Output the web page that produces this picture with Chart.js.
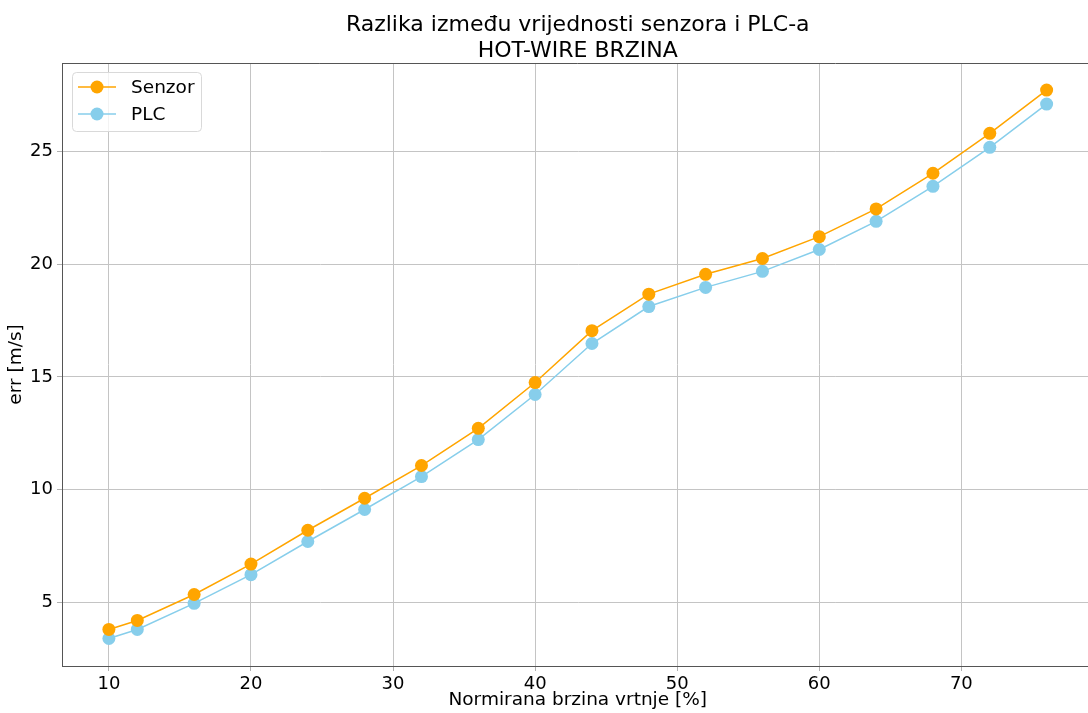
<!DOCTYPE html>
<html>
<head>
<meta charset="utf-8">
<script src="https://cdn.jsdelivr.net/npm/chart.js@4"></script>
<style>
  html, body { margin: 0; padding: 0; background: #fff; overflow: hidden; width: 1088px; height: 713px; }
  canvas { display: block; }
</style>
</head>
<body>
<canvas id="c" width="1100" height="713"></canvas>
<script>
const xValues = [10, 12, 16, 20, 24, 28, 32, 36, 40, 44, 48, 52, 56, 60, 64, 68, 72, 76];
const senzor = [3.8, 4.2, 5.35, 6.7, 8.2, 9.62, 11.07, 12.72, 14.75, 17.05, 18.67, 19.55, 20.25, 21.22, 22.45, 24.03, 25.8, 27.72];
const plc = [3.4, 3.8, 4.96, 6.23, 7.7, 9.12, 10.58, 12.22, 14.22, 16.48, 18.12, 18.97, 19.68, 20.65, 21.9, 23.45, 25.18, 27.1];
const xTicks = [10, 20, 30, 40, 50, 60, 70];
const yTicks = [5, 10, 15, 20, 25];
const titleLines = ['Razlika između vrijednosti senzora i PLC-a', 'HOT-WIRE BRZINA'];
const xLabel = 'Normirana brzina vrtnje [%]';
const yLabel = 'err [m/s]';

const FONT = "'DejaVu Sans', sans-serif";
const ORANGE = '#FFA500';
const SKY = '#87CEEB';
const SPINE = '#555555';

const titlePlugin = {
  id: 'mplTitle',
  afterDraw(chart) {
    const ctx = chart.ctx, a = chart.chartArea;
    const cx = (a.left + a.right) / 2;
    ctx.save();
    ctx.fillStyle = '#000';
    ctx.font = '22px ' + FONT;
    ctx.textAlign = 'center';
    ctx.textBaseline = 'alphabetic';
    titleLines.forEach((t, i) => ctx.fillText(t, cx, 31 + i * 26));
    ctx.restore();
  }
};

const legendPlugin = {
  id: 'mplLegend',
  afterDatasetsDraw(chart) {
    const ctx = chart.ctx;
    const a = chart.chartArea;
    const x0 = a.left + 10, y0 = a.top + 9, w = 129, h = 59;
    ctx.save();
    ctx.beginPath();
    ctx.roundRect(x0 + 0.5, y0 + 0.5, w, h, 4);
    ctx.fillStyle = 'rgba(255,255,255,0.8)';
    ctx.fill();
    ctx.strokeStyle = '#d9d9d9';
    ctx.lineWidth = 1;
    ctx.stroke();
    chart.data.datasets.forEach((ds, i) => {
      const cy = y0 + 15 + i * 27;
      ctx.strokeStyle = ds.borderColor;
      ctx.lineWidth = 1.5;
      ctx.beginPath();
      ctx.moveTo(x0 + 6, cy);
      ctx.lineTo(x0 + 44, cy);
      ctx.stroke();
      ctx.fillStyle = ds.borderColor;
      ctx.beginPath();
      ctx.arc(x0 + 25, cy, 6.5, 0, Math.PI * 2);
      ctx.fill();
      ctx.fillStyle = '#000';
      ctx.font = '18.5px ' + FONT;
      ctx.textBaseline = 'middle';
      ctx.textAlign = 'left';
      ctx.fillText(ds.label, x0 + 59, cy + 1);
    });
    ctx.restore();
  }
};

const topSpine = {
  id: 'topSpine',
  afterDraw(chart) {
    const ctx = chart.ctx, a = chart.chartArea;
    ctx.save();
    ctx.strokeStyle = SPINE;
    ctx.lineWidth = 1;
    ctx.beginPath();
    ctx.moveTo(a.left, a.top + 0.5);
    ctx.lineTo(a.right, a.top + 0.5);
    ctx.stroke();
    ctx.restore();
  }
};

new Chart(document.getElementById('c'), {
  type: 'line',
  data: {
    datasets: [
      {
        label: 'Senzor',
        data: xValues.map((x, i) => ({ x: x, y: senzor[i] })),
        borderColor: ORANGE, backgroundColor: ORANGE,
        pointBackgroundColor: ORANGE, pointBorderWidth: 0,
        pointRadius: 6.5, borderWidth: 1.5, tension: 0
      },
      {
        label: 'PLC',
        data: xValues.map((x, i) => ({ x: x, y: plc[i] })),
        borderColor: SKY, backgroundColor: SKY,
        pointBackgroundColor: SKY, pointBorderWidth: 0,
        pointRadius: 6.5, borderWidth: 1.5, tension: 0
      }
    ]
  },
  options: {
    responsive: false,
    animation: false,
    layout: { padding: { left: 0, right: 4, top: 63, bottom: 0 } },
    plugins: {
      legend: { display: false },
      tooltip: { enabled: false },
      title: { display: false }
    },
    scales: {
      x: {
        type: 'linear',
        min: 6.7, max: 79.3,
        afterBuildTicks: s => { s.ticks = xTicks.map(v => ({ value: v })); },
        afterFit: s => { s.height = 47; },
        grid: { color: '#c4c4c4', lineWidth: 1, tickColor: '#b0b0b0', tickLength: 5, drawTicks: true },
        border: { display: true, color: SPINE, width: 1 },
        ticks: { color: '#000', font: { family: FONT, size: 18 }, padding: 3, maxRotation: 0, autoSkip: false },
        title: { display: true, text: xLabel, color: '#000', font: { family: FONT, size: 18.5 }, padding: { top: 0, bottom: 2 } }
      },
      y: {
        type: 'linear',
        min: 2.18, max: 28.92,
        afterBuildTicks: s => { s.ticks = yTicks.map(v => ({ value: v })); },
        afterFit: s => { s.width = 62; },
        grid: { color: '#c4c4c4', lineWidth: 1, tickColor: '#b0b0b0', tickLength: 5, drawTicks: true },
        border: { display: true, color: SPINE, width: 1 },
        ticks: { color: '#000', font: { family: FONT, size: 18 }, padding: 4, autoSkip: false },
        title: { display: true, text: yLabel, color: '#000', font: { family: FONT, size: 18.5 }, padding: { top: 5, bottom: 0 } }
      }
    }
  },
  plugins: [titlePlugin, legendPlugin, topSpine]
});
</script>
</body>
</html>
